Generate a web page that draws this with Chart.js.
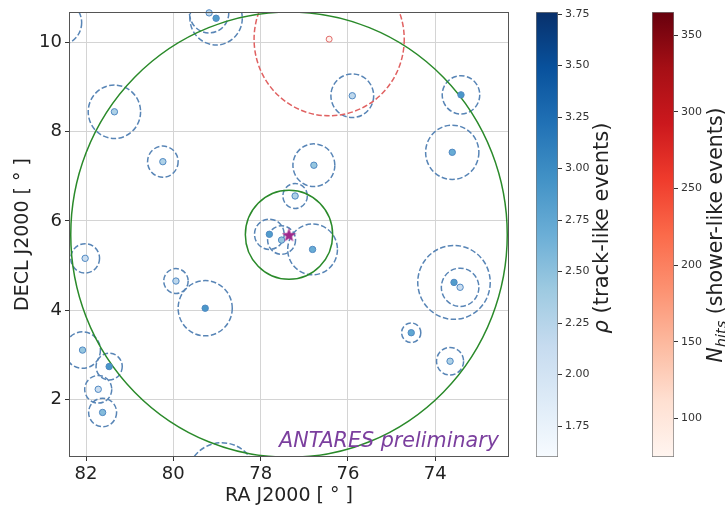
<!DOCTYPE html>
<html>
<head>
<meta charset="utf-8">
<script src="https://cdn.jsdelivr.net/npm/chart.js@4.4.1/dist/chart.umd.min.js"></script>
<style>
  html, body { margin: 0; padding: 0; background: #fff; }
  #wrap { position: relative; width: 725px; height: 506px; }
  #wrap canvas { position: absolute; left: 0; top: 0; }
</style>
</head>
<body>
<div id="wrap">
  <canvas id="sky" width="725" height="506"></canvas>
  <canvas id="cb-rho" width="725" height="506"></canvas>
  <canvas id="cb-nhits" width="725" height="506"></canvas>
</div>
<script>
// ---- data -----------------------------------------------------------
const TRACK_RA  = [81.35, 80.24, 79.18, 79.02, 75.90, 73.41, 73.61, 76.78, 77.21, 77.80, 77.52, 76.81,
                   82.02, 79.94, 79.27, 82.08, 81.47, 81.72, 81.62, 73.57, 73.43, 74.55, 73.66, 82.60, 78.89];
const TRACK_DEC = [ 8.45,  7.33, 10.67, 10.55,  8.81,  8.83,  7.54,  7.25,  6.56,  5.70,  5.57,  5.36,
                    5.16,  4.65,  4.04,  3.10,  2.73,  2.22,  1.70,  4.62,  4.51,  3.49,  2.85, 10.45,  0.22];
const TRACK_ERR = [ 0.60,  0.35,  0.45,  0.60,  0.49,  0.43,  0.61,  0.48,  0.28,  0.34,  0.32,  0.57,
                    0.33,  0.28,  0.62,  0.41,  0.30,  0.31,  0.32,  0.83,  0.43,  0.22,  0.31,  0.50,  0.80];
const TRACK_RHO = [ 2.30,  2.30,  2.20,  2.85,  2.20,  2.90,  2.70,  2.45,  2.30,  2.85,  2.45,  2.70,
                    2.10,  2.20,  2.90,  2.45,  2.90,  2.10,  2.55,  2.85,  2.10,  2.75,  2.30,  2.40,  2.40];

const SHOWER_RA    = [76.43];
const SHOWER_DEC   = [10.08];
const SHOWER_ERR   = [1.72];
const SHOWER_NHITS = [80];

const SOURCE_RA  = [77.35];
const SOURCE_DEC = [5.69];
const SEARCH_RADII = [1, 5];

const RA_RANGE  = [72.31, 82.39];
const DEC_RANGE = [0.70, 10.69];
const RA_TICKS  = [74, 76, 78, 80, 82];
const DEC_TICKS = [2, 4, 6, 8, 10];

const RHO_RANGE   = [1.60, 3.76];
const RHO_TICKS   = [1.75, 2.00, 2.25, 2.50, 2.75, 3.00, 3.25, 3.50, 3.75];
const NHITS_RANGE = [75, 365];
const NHITS_TICKS = [100, 150, 200, 250, 300, 350];

// ---- colour maps (matplotlib Blues / Reds) ------------------------------
const BLUES = ['#f7fbff','#deebf7','#c6dbef','#9ecae1','#6baed6','#4292c6','#2171b5','#08519c','#08306b'];
const REDS  = ['#fff5f0','#fee0d2','#fcbba1','#fc9272','#fb6a4a','#ef3b2c','#cb181d','#a50f15','#67000d'];

function hexRgb(h) { return [1, 3, 5].map(i => parseInt(h.slice(i, i + 2), 16)); }
function cmap(stops, t) {
  t = Math.min(1, Math.max(0, t));
  const p = t * (stops.length - 1), i = Math.min(stops.length - 2, Math.floor(p)), f = p - i;
  const a = hexRgb(stops[i]), b = hexRgb(stops[i + 1]);
  return `rgb(${a.map((v, k) => Math.round(v + (b[k] - v) * f)).join(',')})`;
}
const norm = (v, [lo, hi]) => (v - lo) / (hi - lo);

const FONT = 'DejaVu Sans';
Chart.defaults.font.family = FONT;

function fixedTicks(values) {
  return scale => { scale.ticks = values.map(v => ({ value: v })); };
}

function starSprite(size, color) {
  const c = document.createElement('canvas');
  c.width = c.height = size;
  const g = c.getContext('2d');
  g.fillStyle = color;
  g.beginPath();
  for (let i = 0; i < 10; i++) {
    const r = i % 2 ? size * 0.2 : size / 2;
    const a = -Math.PI / 2 + i * Math.PI / 5;
    g.lineTo(size / 2 + r * Math.cos(a), size / 2 + r * Math.sin(a) + size * 0.05);
  }
  g.closePath();
  g.fill();
  return c;
}

// ---- error circles, search circles, frame, label ------------------------
const DASH = [5.5, 2.4];

const skyPlugin = {
  id: 'sky',
  beforeDatasetsDraw(chart) {
    const { ctx, chartArea: a, scales: { x, y } } = chart;
    const ring = (ra, dec, r, color, dash) => {
      const cx = x.getPixelForValue(ra), cy = y.getPixelForValue(dec);
      const rx = Math.abs(x.getPixelForValue(ra + r) - cx);
      const ry = Math.abs(y.getPixelForValue(dec + r) - cy);
      ctx.beginPath();
      ctx.setLineDash(dash);
      ctx.strokeStyle = color;
      ctx.lineWidth = 1.5;
      ctx.ellipse(cx, cy, rx, ry, 0, 0, Math.PI * 2);
      ctx.stroke();
    };
    ctx.save();
    ctx.beginPath();
    ctx.rect(a.left, a.top, a.right - a.left, a.bottom - a.top);
    ctx.clip();
    TRACK_RA.forEach((ra, i) => ring(ra, TRACK_DEC[i], TRACK_ERR[i], '#5885b6', DASH));
    SHOWER_RA.forEach((ra, i) => ring(ra, SHOWER_DEC[i], SHOWER_ERR[i], '#e06262', DASH));
    SEARCH_RADII.forEach(r => ring(SOURCE_RA[0], SOURCE_DEC[0], r, '#2a8a2a', []));
    ctx.restore();
  },
  afterDraw(chart) {
    const { ctx, chartArea: a } = chart;
    ctx.save();
    ctx.strokeStyle = '#555';
    ctx.lineWidth = 1;
    ctx.strokeRect(a.left + 0.5, a.top + 0.5, a.right - a.left - 1, a.bottom - a.top - 1);
    ctx.font = `italic 20.7px ${FONT}`;
    ctx.fillStyle = '#7b3f9e';
    ctx.textAlign = 'right';
    ctx.textBaseline = 'alphabetic';
    ctx.fillText('ANTARES preliminary', a.right - 10, a.bottom - 10);
    ctx.restore();
  },
};

new Chart(document.getElementById('sky'), {
  type: 'scatter',
  data: {
    datasets: [
      {
        label: 'source',
        data: SOURCE_RA.map((ra, i) => ({ x: ra, y: SOURCE_DEC[i] })),
        pointStyle: starSprite(15, '#a0288c'),
        pointRadius: 7,
        order: 0,
      },
      {
        label: 'shower',
        data: SHOWER_RA.map((ra, i) => ({ x: ra, y: SHOWER_DEC[i] })),
        pointBackgroundColor: SHOWER_NHITS.map(n => cmap(REDS, norm(n, NHITS_RANGE))),
        pointBorderColor: '#e06a6a',
        pointBorderWidth: 1,
        pointRadius: 3,
        order: 1,
      },
      {
        label: 'tracks',
        data: TRACK_RA.map((ra, i) => ({ x: ra, y: TRACK_DEC[i] })),
        pointBackgroundColor: TRACK_RHO.map(v => cmap(BLUES, norm(v, RHO_RANGE))),
        pointBorderColor: '#5189c2',
        pointBorderWidth: 1,
        pointRadius: 3.2,
        order: 2,
      },
    ],
  },
  options: {
    responsive: false,
    animation: false,
    events: [],
    clip: 3,
    layout: { padding: { left: 0, right: 216, top: 12, bottom: 0 } },
    plugins: { legend: { display: false }, tooltip: { enabled: false } },
    scales: {
      x: {
        type: 'linear',
        reverse: true,
        min: RA_RANGE[0],
        max: RA_RANGE[1],
        afterBuildTicks: fixedTicks(RA_TICKS),
        afterFit: s => { s.height = 49; s.paddingLeft = 0; s.paddingRight = 0; },
        ticks: { font: { size: 18 }, color: '#222', padding: 3, maxRotation: 0, autoSkip: false },
        grid: { color: '#d4d4d4', lineWidth: 1, tickColor: '#333', tickLength: 4 },
        border: { display: false },
        title: { display: true, text: 'RA J2000 [ ° ]', color: '#222',
                 font: { size: 19, lineHeight: 1 }, padding: { top: 0, bottom: 0 } },
      },
      y: {
        type: 'linear',
        min: DEC_RANGE[0],
        max: DEC_RANGE[1],
        afterBuildTicks: fixedTicks(DEC_TICKS),
        afterFit: s => { s.width = 69; s.paddingTop = 0; s.paddingBottom = 0; },
        ticks: { font: { size: 18 }, color: '#222', padding: 3 },
        grid: { color: '#d4d4d4', lineWidth: 1, tickColor: '#333', tickLength: 4 },
        border: { display: false },
        title: { display: true, text: 'DECL J2000 [ ° ]', color: '#222',
                 font: { size: 19, lineHeight: 1 }, padding: { top: 14, bottom: 0 } },
      },
    },
  },
  plugins: [skyPlugin],
});

// ---- colour bars ----------------------------------------------------------
const cbTitlePlugin = {
  id: 'cbTitle',
  afterDraw(chart, args, opts) {
    const { ctx } = chart;
    ctx.save();
    ctx.fillStyle = '#222';
    ctx.textBaseline = 'alphabetic';
    let total = 0;
    opts.parts.forEach(p => { ctx.font = p.font; total += ctx.measureText(p.text).width; });
    ctx.translate(opts.x, opts.y);
    ctx.rotate(-Math.PI / 2);
    let cur = -total / 2;
    opts.parts.forEach(p => {
      ctx.font = p.font;
      ctx.fillText(p.text, cur, 7 + (p.dy || 0));
      cur += ctx.measureText(p.text).width;
    });
    ctx.restore();
  },
};

function colorbar(id, range, ticks, stops, digits, left, title) {
  new Chart(document.getElementById(id), {
    type: 'bar',
    data: {
      labels: [''],
      datasets: [{
        data: [range],
        backgroundColor: c => {
          const a = c.chart.chartArea;
          if (!a) return stops[0];
          const g = c.chart.ctx.createLinearGradient(0, a.bottom, 0, a.top);
          stops.forEach((s, i) => g.addColorStop(i / (stops.length - 1), s));
          return g;
        },
        borderColor: '#777',
        borderWidth: 1,
        borderSkipped: false,
        barPercentage: 1,
        categoryPercentage: 1,
      }],
    },
    options: {
      responsive: false,
      animation: false,
      events: [],
      layout: { padding: { left: left, right: 725 - left - 22 - 50, top: 12, bottom: 49 } },
      plugins: { legend: { display: false }, tooltip: { enabled: false }, cbTitle: title },
      scales: {
        x: { display: false },
        y: {
          position: 'right',
          min: range[0],
          max: range[1],
          afterBuildTicks: fixedTicks(ticks),
          afterFit: s => { s.width = 50; s.paddingTop = 0; s.paddingBottom = 0; },
          ticks: { font: { size: 11 }, color: '#333', padding: 3, callback: v => v.toFixed(digits) },
          grid: { drawOnChartArea: false, tickLength: 4, tickColor: '#333' },
          border: { display: false },
        },
      },
    },
    plugins: [cbTitlePlugin],
  });
}

colorbar('cb-rho', RHO_RANGE, RHO_TICKS, BLUES, 2, 536, {
  x: 601, y: 228,
  parts: [
    { text: 'ρ', font: `italic 21px ${FONT}` },
    { text: ' (track-like events)', font: `21px ${FONT}` },
  ],
});

colorbar('cb-nhits', NHITS_RANGE, NHITS_TICKS, REDS, 0, 652, {
  x: 715, y: 235,
  parts: [
    { text: 'N', font: `italic 20.5px ${FONT}` },
    { text: 'hits', font: `italic 14.5px ${FONT}`, dy: 4 },
    { text: ' (shower-like events)', font: `20.5px ${FONT}` },
  ],
});
</script>
</body>
</html>
